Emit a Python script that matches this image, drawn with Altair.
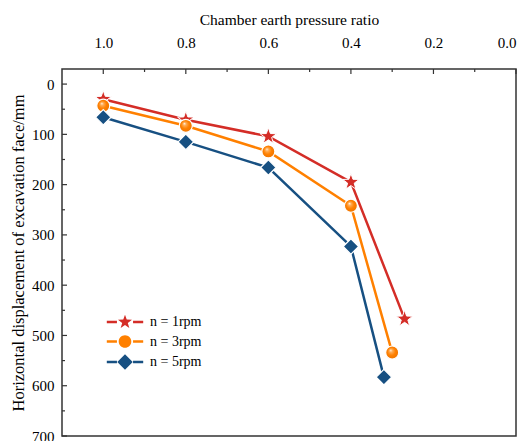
import altair as alt
import pandas as pd

series_names = ["n = 1rpm", "n = 3rpm", "n = 5rpm"]
colors = ["#D42D27", "#FF8000", "#175082"]

x_1rpm = [1.0, 0.8, 0.6, 0.4, 0.27]
y_1rpm = [30, 71, 104, 195, 467]
x_3rpm = [1.0, 0.8, 0.6, 0.4, 0.30]
y_3rpm = [43, 83, 134, 242, 534]
x_5rpm = [1.0, 0.8, 0.6, 0.4, 0.32]
y_5rpm = [66, 115, 166, 323, 583]

x_major = [1.0, 0.8, 0.6, 0.4, 0.2, 0.0]
x_minor = [0.9, 0.7, 0.5, 0.3, 0.1]
y_major = [0, 100, 200, 300, 400, 500, 600, 700]
y_minor = [50, 150, 250, 350, 450, 550, 650]

FONT = "Liberation Serif"

rows = []
for name, xs, ys in zip(series_names, [x_1rpm, x_3rpm, x_5rpm], [y_1rpm, y_3rpm, y_5rpm]):
    for a, b in zip(xs, ys):
        rows.append({"ratio": a, "disp": b, "series": name})
df = pd.DataFrame(rows)

xscale = alt.Scale(domain=[1.1, 0.0], nice=False, zero=False)
yscale = alt.Scale(domain=[-30, 700], reverse=True, nice=False, zero=False)
cscale = alt.Scale(domain=series_names, range=colors)

star = "M0,-1L0.235,-0.324L0.951,-0.309L0.38,0.124L0.588,0.809L0,0.4L-0.588,0.809L-0.38,0.124L-0.951,-0.309L-0.235,-0.324Z"

xenc = alt.X("ratio:Q", scale=xscale,
             axis=alt.Axis(orient="top", values=x_major, format=".1f", tickSize=0,
                           domain=False, grid=False, labelPadding=19,
                           title="Chamber earth pressure ratio", titlePadding=8,
                           titleFontSize=15.5))
yenc = alt.Y("disp:Q", scale=yscale,
             axis=alt.Axis(orient="left", values=y_major, tickSize=0, domain=False,
                           grid=False, labelPadding=8,
                           title="Horizontal displacement of excavation face/mm",
                           titlePadding=5, titleFontSize=16.5))

base = alt.Chart(df)

lines = base.mark_line(strokeWidth=2.5).encode(
    x=xenc, y=yenc,
    color=alt.Color("series:N", scale=cscale, legend=None),
)

stars = base.transform_filter(alt.datum.series == series_names[0]).mark_point(
    shape=star, size=300, filled=True, fill=colors[0], stroke="white",
    strokeWidth=1.0, opacity=1
).encode(x="ratio:Q", y="disp:Q")

balls = base.transform_filter(alt.datum.series == series_names[1]).mark_point(
    shape="circle", size=170, filled=True,
    fill={"gradient": "radial", "x1": 0.38, "y1": 0.32, "r1": 0.0,
          "x2": 0.5, "y2": 0.5, "r2": 0.55,
          "stops": [{"offset": 0.0, "color": "#fff6ea"},
                    {"offset": 0.22, "color": "#ffac55"},
                    {"offset": 0.55, "color": "#ff8000"},
                    {"offset": 1.0, "color": "#ec7300"}]},
    stroke="white", strokeWidth=1.2, opacity=1
).encode(x="ratio:Q", y="disp:Q")

diamonds = base.transform_filter(alt.datum.series == series_names[2]).mark_point(
    shape="diamond", size=240, filled=True, fill=colors[2], stroke="white",
    strokeWidth=1.2, opacity=1
).encode(x="ratio:Q", y="disp:Q")

# inward ticks
tick_col = "#333333"
ytmaj = alt.Chart(pd.DataFrame({"v": y_major})).mark_rule(color=tick_col, strokeWidth=1.2).encode(
    y=alt.Y("v:Q", scale=yscale), x=alt.value(0), x2=alt.value(5))
ytmin = alt.Chart(pd.DataFrame({"v": y_minor})).mark_rule(color=tick_col, strokeWidth=1.2).encode(
    y=alt.Y("v:Q", scale=yscale), x=alt.value(0), x2=alt.value(3))
xtmaj = alt.Chart(pd.DataFrame({"v": x_major})).mark_rule(color=tick_col, strokeWidth=1.2).encode(
    x=alt.X("v:Q", scale=xscale), y=alt.value(0), y2=alt.value(5))
xtmin = alt.Chart(pd.DataFrame({"v": x_minor})).mark_rule(color=tick_col, strokeWidth=1.2).encode(
    x=alt.X("v:Q", scale=xscale), y=alt.value(0), y2=alt.value(3))

# legend layer (no visible marks, only legend)
seg = "M-2.6,-0.18H-1.15V0.18H-2.6Z M1.15,-0.18H2.6V0.18H1.15Z "
leg_star = seg + "M0,-1.05L0.247,-0.34L1.0,-0.324L0.4,0.13L0.617,0.85L0,0.42L-0.617,0.85L-0.4,0.13L-1.0,-0.324L-0.247,-0.34Z"
leg_circ = seg + "M-0.9,0A0.9,0.9 0 1,0 0.9,0A0.9,0.9 0 1,0 -0.9,0Z"
leg_diam = seg + "M0,-1.1L1.1,0L0,1.1L-1.1,0Z"

leg_props = dict(title=None, orient="none", legendX=56, legendY=246,
                 symbolSize=196, symbolStrokeWidth=0, symbolOpacity=1,
                 labelOffset=18, labelFont=FONT, labelFontSize=14,
                 labelColor="black", rowPadding=5.5, padding=0)

legend_layer = base.transform_filter("datum.disp < -1000").transform_calculate(
    leg="datum.series").mark_point(filled=True, opacity=1).encode(
    x=alt.X("ratio:Q", scale=xscale),
    y=alt.Y("disp:Q", scale=yscale),
    color=alt.Color("leg:N", scale=alt.Scale(domain=series_names, range=colors),
                    legend=alt.Legend(**leg_props)),
    shape=alt.Shape("leg:N", scale=alt.Scale(domain=series_names,
                                             range=[leg_star, leg_circ, leg_diam]),
                    legend=alt.Legend(**leg_props)),
)

chart = alt.layer(
    lines, stars, balls, diamonds, ytmaj, ytmin, xtmaj, xtmin, legend_layer
).resolve_scale(color="independent", shape="independent").properties(
    width=454, height=367,
    background="white",
    autosize=alt.AutoSizeParams(type="none"),
    padding={"left": 62, "top": 69, "right": 10, "bottom": 5},
).configure_view(
    stroke="#333333", strokeWidth=1.5
).configure_axis(
    labelFont=FONT, labelFontSize=15, labelColor="black",
    titleFont=FONT, titleFontSize=15, titleColor="black", titleFontWeight="normal",
)

chart.save("out.html", embed_options={"renderer": "svg", "actions": False})
